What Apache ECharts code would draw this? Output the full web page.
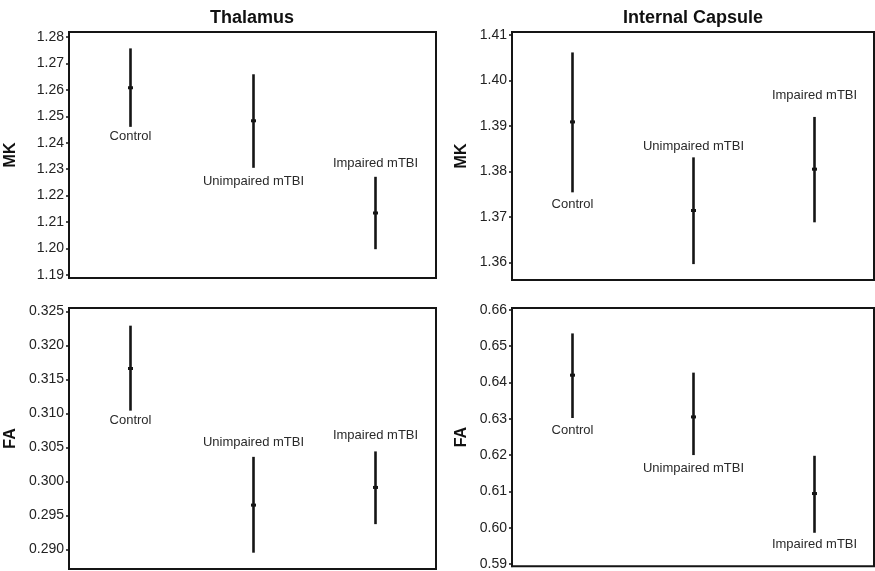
<!DOCTYPE html>
<html>
<head>
<meta charset="utf-8">
<title>MK / FA by group</title>
<script src="https://cdn.jsdelivr.net/npm/echarts@6/dist/echarts.min.js"></script>
<style>
    html, body { margin: 0; padding: 0; background: #fff; }
    #chart { width: 875px; height: 571px; }
</style>
</head>
<body>
<div id="chart"></div>
<script>
// groups shown in every panel
const groups = ['Control', 'Unimpaired mTBI', 'Impaired mTBI'];

// Thalamus MK
const thalMkMean = [1.2608, 1.2483, 1.2134];
const thalMkLow  = [1.2460, 1.2305, 1.1997];
const thalMkHigh = [1.2757, 1.2659, 1.2271];
const thalMkTicks = ['1.19', '1.20', '1.21', '1.22', '1.23', '1.24', '1.25', '1.26', '1.27', '1.28'];

// Internal capsule MK
const icMkMean = [1.3909, 1.3714, 1.3805];
const icMkLow  = [1.3754, 1.3596, 1.3688];
const icMkHigh = [1.4062, 1.3831, 1.3920];
const icMkTicks = ['1.36', '1.37', '1.38', '1.39', '1.40', '1.41'];

// Thalamus FA
const thalFaMean = [0.3166, 0.2965, 0.2991];
const thalFaLow  = [0.3104, 0.2895, 0.2937];
const thalFaHigh = [0.3229, 0.3036, 0.3044];
const thalFaTicks = ['0.290', '0.295', '0.300', '0.305', '0.310', '0.315', '0.320', '0.325'];

// Internal capsule FA
const icFaMean = [0.6420, 0.6305, 0.6094];
const icFaLow  = [0.6302, 0.6200, 0.5986];
const icFaHigh = [0.6535, 0.6427, 0.6198];
const icFaTicks = ['0.59', '0.60', '0.61', '0.62', '0.63', '0.64', '0.65', '0.66'];

// panel setup: where each group label sits relative to its bar
const panels = [
    { name: 'MK', mean: thalMkMean, low: thalMkLow, high: thalMkHigh, ticks: thalMkTicks,
      min: 1.1888, max: 1.2819, grid: { left: 69, top: 32, width: 367, height: 246 }, nameGap: 50,
      side: ['below', 'below', 'above'], gap: [10, 14, 13] },
    { name: 'MK', mean: icMkMean, low: icMkLow, high: icMkHigh, ticks: icMkTicks,
      min: 1.3561, max: 1.4107, grid: { left: 512, top: 32, width: 362, height: 248 }, nameGap: 42,
      side: ['below', 'above', 'above'], gap: [12, 11, 22] },
    { name: 'FA', mean: thalFaMean, low: thalFaLow, high: thalFaHigh, ticks: thalFaTicks,
      min: 0.2871, max: 0.3255, grid: { left: 69, top: 308, width: 367, height: 261 }, nameGap: 50,
      side: ['below', 'above', 'above'], gap: [10, 14, 16] },
    { name: 'FA', mean: icFaMean, low: icFaLow, high: icFaHigh, ticks: icFaTicks,
      min: 0.5894, max: 0.6605, grid: { left: 512, top: 308, width: 362, height: 261 }, nameGap: 42,
      side: ['below', 'below', 'below'], gap: [12, 13, 12] }
];

const fontFamily = '"Liberation Sans", Arial, Helvetica, sans-serif';
const ink = '#151515';

function makeRenderer(panel) {
    return function (params, api) {
        const i = api.value(0);
        const low = api.coord([i, api.value(1)]);
        const mid = api.coord([i, api.value(2)]);
        const high = api.coord([i, api.value(3)]);
        const x = Math.round(low[0]) + 0.5;
        const above = panel.side[i] === 'above';
        const labelY = above ? high[1] - panel.gap[i] : low[1] + panel.gap[i];
        return {
            type: 'group',
            children: [
                { type: 'line', shape: { x1: x, y1: low[1], x2: x, y2: high[1] },
                  style: { stroke: ink, lineWidth: 2.6 } },
                { type: 'rect', shape: { x: x - 2.5, y: mid[1] - 1.5, width: 5, height: 3 },
                  style: { fill: ink } },
                { type: 'text', x: x, y: labelY,
                  style: { text: groups[i], align: 'center', verticalAlign: 'middle',
                           fontSize: 13, fontFamily: fontFamily, fill: '#2a2a2a' } }
            ]
        };
    };
}

const chart = echarts.init(document.getElementById('chart'));

const option = {
    animation: false,
    backgroundColor: '#fff',
    title: [
        { text: 'Thalamus', left: 252, top: 9, padding: 0, textAlign: 'center',
          textStyle: { fontSize: 18, fontWeight: 'bold', color: '#111', fontFamily: fontFamily } },
        { text: 'Internal Capsule', left: 693, top: 9, padding: 0, textAlign: 'center',
          textStyle: { fontSize: 18, fontWeight: 'bold', color: '#111', fontFamily: fontFamily } }
    ],
    grid: panels.map(p => Object.assign({ show: true, borderColor: ink, borderWidth: 2, backgroundColor: '#fff' }, p.grid)),
    xAxis: panels.map((p, k) => ({
        type: 'category', gridIndex: k, data: groups, boundaryGap: true,
        axisLine: { show: false }, axisTick: { show: false }, axisLabel: { show: false },
        splitLine: { show: false }
    })),
    yAxis: panels.map((p, k) => ({
        type: 'value', gridIndex: k, min: p.min, max: p.max,
        name: p.name, nameLocation: 'middle', nameRotate: 90, nameGap: p.nameGap,
        nameTextStyle: { fontSize: 16, fontWeight: 'bold', color: '#111', fontFamily: fontFamily },
        axisLine: { show: true, lineStyle: { color: ink, width: 2 } },
        axisTick: { show: true, length: 3, lineStyle: { color: ink, width: 1.5 },
                    customValues: p.ticks.map(Number) },
        axisLabel: {
            customValues: p.ticks.map(Number),
            margin: 5, fontSize: 14, color: '#222', fontFamily: fontFamily,
            formatter: v => p.ticks.find(t => Math.abs(Number(t) - v) < 1e-9) || ''
        },
        splitLine: { show: false }
    })),
    series: panels.map((p, k) => ({
        type: 'custom',
        xAxisIndex: k, yAxisIndex: k,
        renderItem: makeRenderer(p),
        encode: { x: 0, y: [1, 2, 3] },
        data: groups.map((g, i) => [i, p.low[i], p.mean[i], p.high[i]])
    }))
};

chart.setOption(option);
</script>
</body>
</html>
